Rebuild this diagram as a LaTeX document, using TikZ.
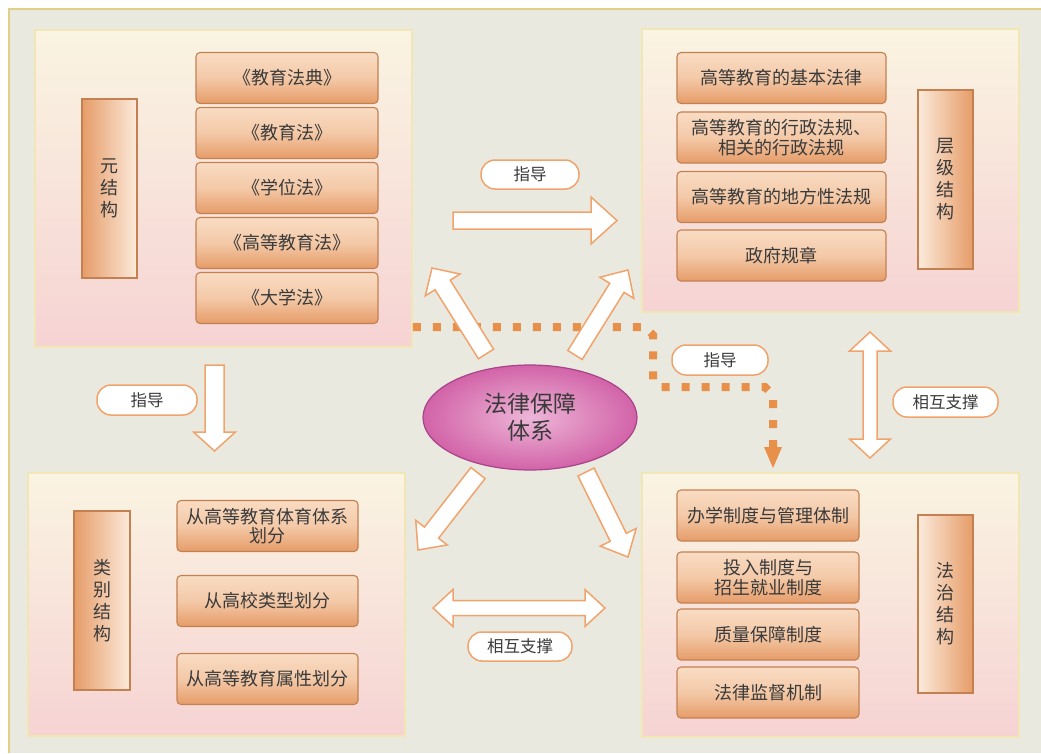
\documentclass[tikz,border=0pt]{standalone}
\usepackage{fontspec}
\newfontfamily\cjk{Noto Sans CJK SC}
\usetikzlibrary{calc,shapes.geometric}
\definecolor{bgc}{HTML}{E9E9E0}
\definecolor{framec}{HTML}{E2CF86}
\definecolor{paneltop}{HTML}{FAF4E2}
\definecolor{panelbot}{HTML}{F6D3D3}
\definecolor{panelline}{HTML}{F2E6B4}
\definecolor{itemtop}{HTML}{F9DCC3}
\definecolor{itembot}{HTML}{E69C68}
\definecolor{itemline}{HTML}{C38152}
\definecolor{txt}{HTML}{3A3A3A}
\definecolor{arrline}{HTML}{F0A46C}
\definecolor{dotc}{HTML}{E8904A}
\definecolor{ellin}{HTML}{EDB6D8}
\definecolor{ellout}{HTML}{D263A8}
\definecolor{ellline}{HTML}{A8448A}
\newcommand\blockarrow[5]{%
  \coordinate (bah) at ($(#2)!#5!(#1)$);
  \draw[blockarr] ($(#1)!#3!90:(#2)$) -- ($(bah)!#3!90:(#2)$) -- ($(bah)!#4!90:(#2)$) -- (#2)
    -- ($(bah)!#4!-90:(#2)$) -- ($(bah)!#3!-90:(#2)$) -- ($(#1)!#3!-90:(#2)$) -- cycle;}
\newcommand\dblarrow[5]{%
  \coordinate (bah) at ($(#2)!#5!(#1)$);
  \coordinate (bat) at ($(#1)!#5!(#2)$);
  \draw[blockarr] (#1) -- ($(bat)!#4!90:(#2)$) -- ($(bat)!#3!90:(#2)$) -- ($(bah)!#3!90:(#2)$)
    -- ($(bah)!#4!90:(#2)$) -- (#2) -- ($(bah)!#4!-90:(#2)$) -- ($(bah)!#3!-90:(#2)$)
    -- ($(bat)!#3!-90:(#2)$) -- ($(bat)!#4!-90:(#2)$) -- cycle;}
\begin{document}
\begin{tikzpicture}[x=1pt,y=-1pt,
  panel/.style={draw=panelline,line width=1.5pt,top color=paneltop,bottom color=panelbot,
    minimum width=377pt,inner sep=0pt},
  item/.style={draw=itemline,line width=1.1pt,rounded corners=4pt,top color=itemtop,
    bottom color=itembot,middle color=itemtop!70!itembot,text=txt,font=\cjk\fontsize{18}{19.5}\selectfont,
    align=center,inner sep=0pt,minimum height=51pt},
  barL/.style={draw=itemline,line width=1.1pt,left color=itembot,right color=itemtop!60!white,
    text=txt,font=\cjk\fontsize{18}{22}\selectfont,align=center,inner sep=0pt,minimum width=55pt},
  barR/.style={barL,left color=itemtop!60!white,right color=itembot},
  pill/.style={draw=arrline,line width=1.5pt,fill=white,rounded corners=14pt,text=txt,
    font=\cjk\fontsize{16.5}{18}\selectfont,inner sep=0pt},
  blockarr/.style={draw=arrline,line width=1.5pt,fill=white,line join=miter},
  dotline/.style={draw=dotc,line width=8pt,dash pattern=on 8pt off 12pt},
]
\useasboundingbox (0,0) rectangle (1041,753);
\fill[white] (0,0) rectangle (1041,753);
\fill[bgc] (9,9) rectangle (1041,753);
\draw[framec,line width=2pt] (9,753) -- (9,9) -- (1041,9);

% panels
\node[panel,minimum height=317pt] (TL) at (223.5,188.5) {};
\node[panel,minimum height=283pt] (TR) at (830.5,170.5) {};
\node[panel,minimum height=263pt] (BL) at (216.5,604.5) {};
\node[panel,minimum height=264pt] (BR) at (830.5,605) {};

% top-left
\node[barL,minimum height=179pt] (tlbar) at (109.5,188.5) {元\\结\\构};
\node[item,minimum width=182pt] (tl1) at (287,78) {《教育法典》};
\node[item,minimum width=182pt] (tl2) at (287,133) {《教育法》};
\node[item,minimum width=182pt] (tl3) at (287,188) {《学位法》};
\node[item,minimum width=182pt] (tl4) at (287,243) {《高等教育法》};
\node[item,minimum width=182pt] (tl5) at (287,298) {《大学法》};

% top-right
\node[item,minimum width=209pt] (tr1) at (781.5,78) {高等教育的基本法律};
\node[item,minimum width=209pt] (tr2) at (781.5,137.5) {高等教育的行政法规、\\相关的行政法规};
\node[item,minimum width=209pt] (tr3) at (781.5,197) {高等教育的地方性法规};
\node[item,minimum width=209pt] (tr4) at (781.5,255.5) {政府规章};
\node[barR,minimum height=179pt] (trbar) at (945.5,179.5) {层\\级\\结\\构};

% bottom-left
\node[barL,minimum height=179pt,minimum width=56pt] (blbar) at (102,600.5) {类\\别\\结\\构};
\node[item,minimum width=181pt] (bl1) at (267.5,526) {从高等教育体育体系\\划分};
\node[item,minimum width=181pt] (bl2) at (267.5,601) {从高校类型划分};
\node[item,minimum width=181pt] (bl3) at (267.5,679) {从高等教育属性划分};

% bottom-right
\node[item,minimum width=182pt] (br1) at (768,515.5) {办学制度与管理体制};
\node[item,minimum width=182pt] (br2) at (768,577.5) {投入制度与\\招生就业制度};
\node[item,minimum width=182pt] (br3) at (768,634.5) {质量保障制度};
\node[item,minimum width=182pt] (br4) at (768,692.5) {法律监督机制};
\node[barR,minimum height=178pt] (brbar) at (945.5,604) {法\\治\\结\\构};

% center ellipse
\node[ellipse,draw=ellline,line width=1.2pt,inner color=ellin,outer color=ellout,
  minimum width=214pt,minimum height=105pt,inner sep=0pt,text=txt,align=center,
  font=\cjk\fontsize{23}{27}\selectfont] (core) at (530,417.5) {法律保障\\体系};

% dotted guide connector
\coordinate (dA) at (TL.east |- 0,327);
\coordinate (dB) at (773,447);
\draw[dotline] (dA) -- (645,327) -- (653,335) -- (653,380) -- (660,387) -- (765,387) -- (773,395) -- (dB);
\fill[dotc] ($(dB)+(-9,0)$) -- ($(dB)+(9,0)$) -- (773,468) -- cycle;

% block arrows
\coordinate (a1s) at (453,220.5); \coordinate (a1e) at (617,220.5);
\blockarrow{a1s}{a1e}{8.5pt}{23.5pt}{26pt}
\coordinate (a2s) at (214.5,365); \coordinate (a2e) at (214.5,451);
\blockarrow{a2s}{a2e}{9.5pt}{21pt}{19pt}
\coordinate (a3s) at (486,354); \coordinate (a3e) at (432,268);
\blockarrow{a3s}{a3e}{9pt}{20.5pt}{20pt}
\coordinate (a4s) at (575,355); \coordinate (a4e) at (628,270);
\blockarrow{a4s}{a4e}{8.5pt}{20pt}{21pt}
\coordinate (a5s) at (478,473); \coordinate (a5e) at (418,550);
\blockarrow{a5s}{a5e}{9pt}{20pt}{22pt}
\coordinate (a6s) at (586,472); \coordinate (a6e) at (628,557);
\blockarrow{a6s}{a6e}{9pt}{20pt}{22pt}
\coordinate (d1s) at (433,608); \coordinate (d1e) at (605,608);
\dblarrow{d1s}{d1e}{7.5pt}{18.5pt}{20pt}
\coordinate (d2s) at (870,332); \coordinate (d2e) at (870,458);
\dblarrow{d2s}{d2e}{7pt}{20.5pt}{19pt}

% labels
\node[pill,minimum width=98pt,minimum height=29pt] (p1) at (530,174.5) {指导};
\node[pill,minimum width=100pt,minimum height=30pt] (p2) at (147,400) {指导};
\node[pill,minimum width=96pt,minimum height=30pt] (p3) at (720,360) {指导};
\node[pill,minimum width=104pt,minimum height=29pt] (p4) at (520,646.5) {相互支撑};
\node[pill,minimum width=105pt,minimum height=30pt] (p5) at (945.5,402) {相互支撑};
\end{tikzpicture}
\end{document}
